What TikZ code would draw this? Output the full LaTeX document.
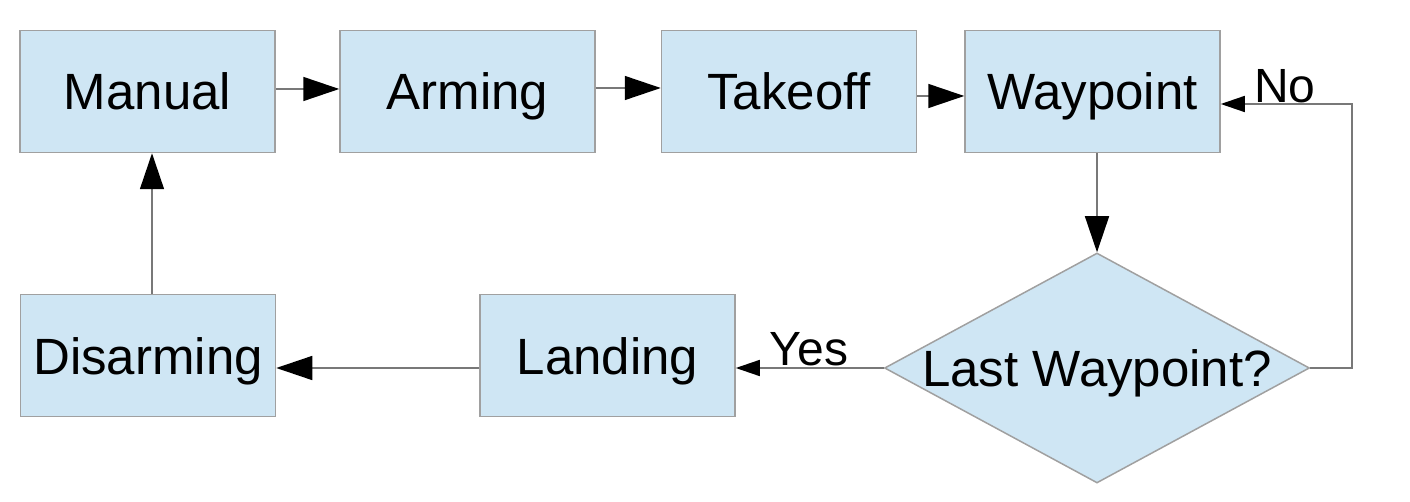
\documentclass[tikz,border=0pt]{standalone}
\usepackage{fontspec}
\setmainfont{Liberation Sans}
\usetikzlibrary{shapes.geometric,arrows.meta}
\definecolor{boxfill}{RGB}{207,230,244}
\definecolor{boxline}{RGB}{160,160,160}
\definecolor{conn}{RGB}{120,120,120}
\tikzset{
  stbox/.style={draw=boxline, line width=1.5pt, fill=boxfill, minimum width=255pt, minimum height=122pt, inner sep=0pt, text height=37pt, text depth=0pt, font=\fontsize{51}{60}\selectfont},
  decbox/.style={draw=boxline, line width=1.5pt, fill=boxfill, diamond, minimum width=425pt, minimum height=230pt, inner sep=0pt, text height=37pt, text depth=0pt, font=\fontsize{51}{60}\selectfont},
  bigarr/.style={draw=conn, line width=1.5pt, -{Triangle[length=36pt, width=24pt, fill=black, color=black]}},
  smallarr/.style={draw=conn, line width=1.5pt, -{Triangle[length=24pt, width=16pt, fill=black, color=black]}},
  lbl/.style={font=\fontsize{48}{56}\selectfont, inner sep=0pt}
}
\begin{document}
\begin{tikzpicture}[x=1pt, y=-1pt]
\useasboundingbox (0,0) rectangle (1410,502);
\node[stbox] (manual) at (147.5,91.5) {Manual};
\node[stbox] (arming) at (467.5,91.5) {Arming};
\node[stbox] (takeoff) at (789,91.5) {Takeoff};
\node[stbox] (waypoint) at (1092.5,91.5) {Waypoint};
\node[stbox] (disarming) at (148,355.5) {Disarming};
\node[stbox] (landing) at (607.5,355.5) {Landing};
\node[decbox] (last) at (1097,368) {\makebox[0pt]{Last Waypoint?}};
\node[lbl] (no) at (1285,86) {No};
\node[lbl] (yes) at (809,349) {Yes};
\coordinate (c1) at (1352,104);
\draw[bigarr] ([yshift=2.5pt]manual.east) -- ([yshift=2.5pt]arming.west);
\draw[bigarr] ([yshift=3.5pt]arming.east) -- ([yshift=3.5pt]takeoff.west);
\draw[bigarr] ([yshift=-4.5pt]takeoff.east) -- ([yshift=-4.5pt]waypoint.west);
\draw[bigarr] (last.north |- waypoint.south) -- (last.north);
\draw[smallarr] (last.east) -| (c1) -- (waypoint.east |- c1);
\draw[smallarr] (last.west) -- (landing.east |- last.west);
\draw[bigarr] (landing.west |- last.west) -- (disarming.east |- last.west);
\draw[bigarr] ([xshift=4pt]disarming.north) -- ([xshift=4pt]disarming.north |- manual.south);
\end{tikzpicture}
\end{document}
